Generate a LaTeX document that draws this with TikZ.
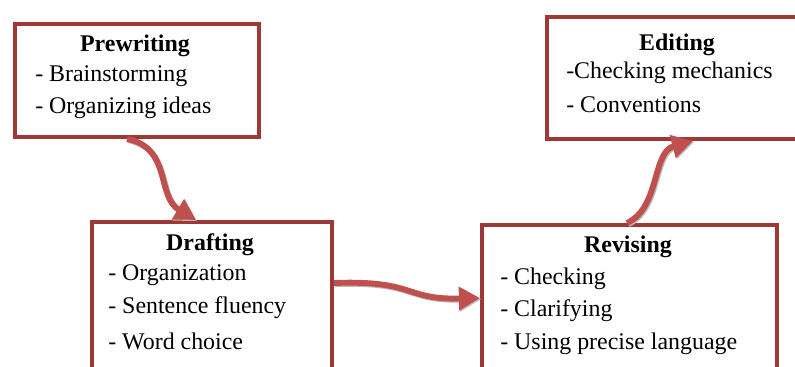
\documentclass[tikz,border=0pt]{standalone}
\usepackage{fontspec}
\setmainfont{Liberation Serif}
\usetikzlibrary{arrows.meta}
\definecolor{boxred}{RGB}{158,56,54}
\definecolor{arrred}{RGB}{192,80,77}
\tikzset{
  box/.style={draw=boxred, line width=2.8pt, fill=white, anchor=north west, inner sep=0pt},
  title/.style={font=\fontsize{17}{20}\selectfont\bfseries, inner sep=0pt},
  item/.style={font=\fontsize{17}{20}\selectfont, anchor=west, inner sep=0pt},
  flow/.style={draw=arrred, line width=4.2pt, -{Triangle[length=15pt,width=16pt]},
    preaction={draw=gray!55, line width=4.2pt, transform canvas={shift={(0.8pt,-0.8pt)}}}}
}
\begin{document}
\begin{tikzpicture}
\path[use as bounding box, clip] (0,0) rectangle (19.875,-9.175);
% boxes
\node[box, minimum width=6.1cm, minimum height=2.825cm] (pre) at (0.325,-0.55) {};
\node[box, minimum width=6.3cm, minimum height=3.05cm] (edit) at (13.625,-0.375) {};
\node[box, minimum width=6.0cm, minimum height=4cm] (draft) at (2.25,-5.5) {};
\node[box, minimum width=7.375cm, minimum height=4cm] (rev) at (12.0,-5.575) {};
% texts
\node[title] (preT) at (3.375,-1.15) {Prewriting};
\node[item] (pre1) at (0.875,-1.9) {- Brainstorming};
\node[item] (pre2) at (0.875,-2.7) {- Organizing ideas};
\node[title] (editT) at (16.925,-1.125) {Editing};
\node[item] (edit1) at (14.15,-1.825) {-Checking mechanics};
\node[item] (edit2) at (14.15,-2.625) {- Conventions};
\node[title] (draftT) at (5.25,-6.125) {Drafting};
\node[item] (draft1) at (2.7,-6.875) {- Organization};
\node[item] (draft2) at (2.7,-7.7) {- Sentence fluency};
\node[item] (draft3) at (2.7,-8.525) {- Word choice};
\node[title] (revT) at (15.7,-6.175) {Revising};
\node[item] (rev1) at (12.5,-6.975) {- Checking};
\node[item] (rev2) at (12.5,-7.775) {- Clarifying};
\node[item] (rev3) at (12.5,-8.6) {- Using precise language};
% arrows
\draw[flow] ([xshift=2.85cm]pre.south west) .. controls (4.3,-3.7) and (3.9,-4.9) .. ([xshift=2.65cm]draft.north west);
\draw[flow] ([yshift=-1.575cm]draft.north east) .. controls (10.4,-7.0) and (10.1,-7.5) .. ([yshift=-1.875cm]rev.north west);
\draw[flow] ([xshift=3.675cm]rev.north west) .. controls (16.5,-5.2) and (16.3,-3.8) .. ([xshift=3.7cm]edit.south west);
\end{tikzpicture}
\end{document}
